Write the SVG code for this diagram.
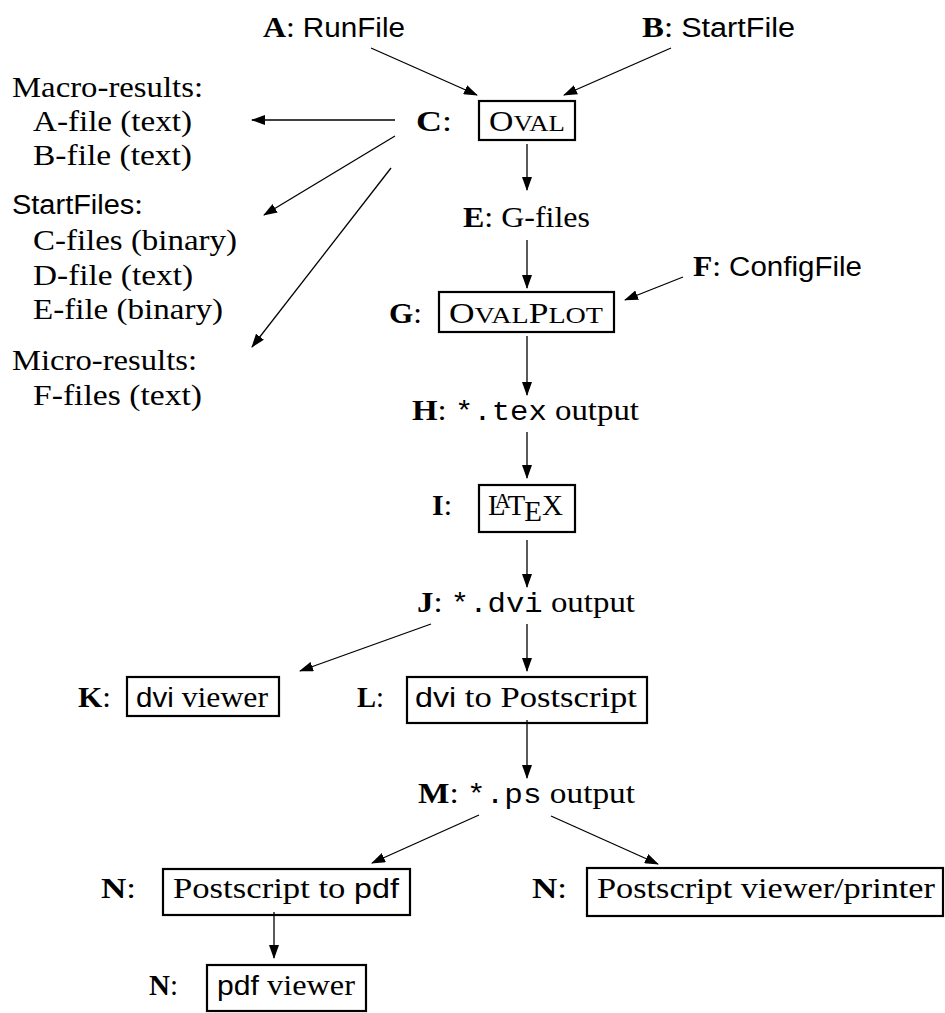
<svg xmlns="http://www.w3.org/2000/svg" width="945" height="1013" viewBox="0 0 945 1013">
<style>
text { font-family: "Liberation Serif", serif; font-size: 29px; fill: #000; }
.bf { font-weight: bold; }
.sf { font-family: "Liberation Sans", sans-serif; font-size: 27px; }
.tt { font-family: "Liberation Mono", monospace; font-size: 27px; }
.sc { font-size: 23px; }
.box { fill: none; stroke: #000; stroke-width: 2.2; }
.arr { stroke: #000; stroke-width: 1.3; fill: none; marker-end: url(#ah); }
</style>
<defs>
<marker id="ah" markerUnits="userSpaceOnUse" markerWidth="14" markerHeight="10" viewBox="0 0 14 10" refX="13" refY="5" orient="auto">
<path d="M0,0 L14,5 L0,10 z" fill="#000"/>
</marker>
</defs>
<rect width="945" height="1013" fill="#fff"/>

<g id="connectors">
<line class="arr" x1="371" y1="48" x2="477" y2="95"/>
<line class="arr" x1="671" y1="48" x2="564" y2="95"/>
<line class="arr" x1="395" y1="120" x2="252" y2="120"/>
<line class="arr" x1="395" y1="136" x2="264" y2="215"/>
<line class="arr" x1="391" y1="168" x2="252" y2="347"/>
<line class="arr" x1="527" y1="144" x2="527" y2="190"/>
<line class="arr" x1="527" y1="240" x2="527" y2="288"/>
<line class="arr" x1="683" y1="277" x2="625" y2="300"/>
<line class="arr" x1="527" y1="336" x2="527" y2="395"/>
<line class="arr" x1="527" y1="432" x2="527" y2="478"/>
<line class="arr" x1="527" y1="540" x2="527" y2="587"/>
<line class="arr" x1="527" y1="624" x2="527" y2="671"/>
<line class="arr" x1="431" y1="624" x2="300" y2="671"/>
<line class="arr" x1="527" y1="720" x2="527" y2="778"/>
<line class="arr" x1="479" y1="815" x2="372" y2="863"/>
<line class="arr" x1="551" y1="816" x2="658" y2="864"/>
<line class="arr" x1="274" y1="912" x2="274" y2="958"/>
</g>

<g id="nodeA">
<text x="263" y="37" textLength="142" lengthAdjust="spacingAndGlyphs"><tspan class="bf">A</tspan>: <tspan class="sf">RunFile</tspan></text>
</g>
<g id="nodeB">
<text x="642" y="37" textLength="153" lengthAdjust="spacingAndGlyphs"><tspan class="bf">B</tspan>: <tspan class="sf">StartFile</tspan></text>
</g>
<g id="nodeC">
<text x="416" y="131" textLength="36" lengthAdjust="spacingAndGlyphs"><tspan class="bf">C</tspan>:</text>
<rect class="box" x="479" y="101" width="96" height="39"/>
<text x="489" y="131" textLength="76" lengthAdjust="spacingAndGlyphs">O<tspan class="sc">VAL</tspan></text>
</g>
<g id="outputs-left">
<text x="12" y="97" textLength="191" lengthAdjust="spacingAndGlyphs">Macro-results:</text>
<text x="33" y="131" textLength="159" lengthAdjust="spacingAndGlyphs">A-file (text)</text>
<text x="33" y="165" textLength="159" lengthAdjust="spacingAndGlyphs">B-file (text)</text>
<text x="12" y="214" textLength="131" lengthAdjust="spacingAndGlyphs"><tspan class="sf">StartFiles</tspan>:</text>
<text x="33" y="250" textLength="204" lengthAdjust="spacingAndGlyphs">C-files (binary)</text>
<text x="33" y="285" textLength="160" lengthAdjust="spacingAndGlyphs">D-file (text)</text>
<text x="33" y="319" textLength="190" lengthAdjust="spacingAndGlyphs">E-file (binary)</text>
<text x="12" y="370" textLength="185" lengthAdjust="spacingAndGlyphs">Micro-results:</text>
<text x="33" y="405" textLength="169" lengthAdjust="spacingAndGlyphs">F-files (text)</text>
</g>
<g id="nodeE">
<text x="463" y="227" textLength="127" lengthAdjust="spacingAndGlyphs"><tspan class="bf">E</tspan>: G-files</text>
</g>
<g id="nodeF">
<text x="693" y="276" textLength="169" lengthAdjust="spacingAndGlyphs"><tspan class="bf">F</tspan>: <tspan class="sf">ConfigFile</tspan></text>
</g>
<g id="nodeG">
<text x="389" y="323" textLength="33" lengthAdjust="spacingAndGlyphs"><tspan class="bf">G</tspan>:</text>
<rect class="box" x="439" y="292" width="175" height="40"/>
<text x="449" y="323" textLength="154" lengthAdjust="spacingAndGlyphs">O<tspan class="sc">VAL</tspan>P<tspan class="sc">LOT</tspan></text>
</g>
<g id="nodeH">
<text x="412" y="420" textLength="227" lengthAdjust="spacingAndGlyphs"><tspan class="bf">H</tspan>: <tspan class="tt">*.tex</tspan> output</text>
</g>
<g id="nodeI">
<text x="432" y="515" textLength="20" lengthAdjust="spacingAndGlyphs"><tspan class="bf">I</tspan>:</text>
<rect class="box" x="479" y="485" width="96" height="47"/>
<text x="488" y="515">L<tspan font-size="22" dx="-11" dy="-7">A</tspan><tspan dx="-3" dy="7">T</tspan><tspan dx="-1" dy="6">E</tspan><tspan dx="0" dy="-6">X</tspan></text>
</g>
<g id="nodeJ">
<text x="417" y="612" textLength="218" lengthAdjust="spacingAndGlyphs"><tspan class="bf">J</tspan>: <tspan class="tt">*.dvi</tspan> output</text>
</g>
<g id="nodeK">
<text x="78" y="707" textLength="33" lengthAdjust="spacingAndGlyphs"><tspan class="bf">K</tspan>:</text>
<rect class="box" x="127" y="677" width="152" height="39"/>
<text x="136" y="707" textLength="132" lengthAdjust="spacingAndGlyphs"><tspan class="sf">dvi</tspan> viewer</text>
</g>
<g id="nodeL">
<text x="357" y="707" textLength="27" lengthAdjust="spacingAndGlyphs"><tspan class="bf">L</tspan>:</text>
<rect class="box" x="407" y="677" width="240" height="46"/>
<text x="415" y="707" textLength="222" lengthAdjust="spacingAndGlyphs"><tspan class="sf">dvi</tspan> to Postscript</text>
</g>
<g id="nodeM">
<text x="418" y="803" textLength="217" lengthAdjust="spacingAndGlyphs"><tspan class="bf">M</tspan>: <tspan class="tt">*.ps</tspan> output</text>
</g>
<g id="nodeN1">
<text x="101" y="898" textLength="35" lengthAdjust="spacingAndGlyphs"><tspan class="bf">N</tspan>:</text>
<rect class="box" x="163" y="869" width="247" height="46"/>
<text x="173" y="898" textLength="226" lengthAdjust="spacingAndGlyphs">Postscript to <tspan class="sf">pdf</tspan></text>
</g>
<g id="nodeN2">
<text x="532" y="898" textLength="35" lengthAdjust="spacingAndGlyphs"><tspan class="bf">N</tspan>:</text>
<rect class="box" x="587" y="868" width="356" height="48"/>
<text x="597" y="898" textLength="338" lengthAdjust="spacingAndGlyphs">Postscript viewer/printer</text>
</g>
<g id="nodeN3">
<text x="149" y="995" textLength="29" lengthAdjust="spacingAndGlyphs"><tspan class="bf">N</tspan>:</text>
<rect class="box" x="207" y="965" width="159" height="46"/>
<text x="217" y="995" textLength="138" lengthAdjust="spacingAndGlyphs"><tspan class="sf">pdf</tspan> viewer</text>
</g>
</svg>
